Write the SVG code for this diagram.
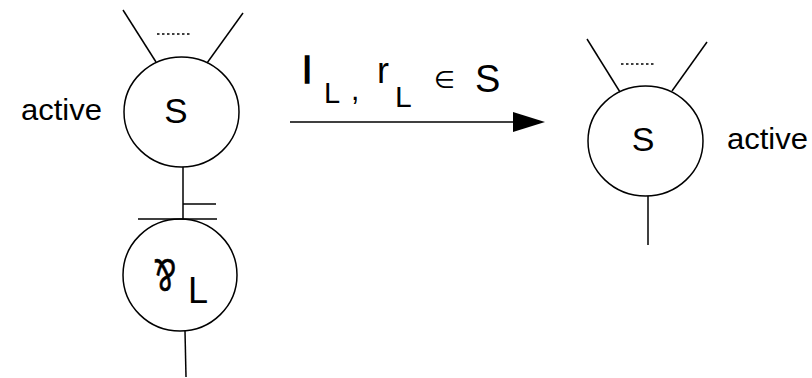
<svg xmlns="http://www.w3.org/2000/svg" width="812" height="378" viewBox="0 0 812 378">
<style>
.ln{stroke:#000;stroke-width:1.5;fill:none}
.dot{stroke:#000;stroke-width:1.3;stroke-dasharray:2.5,2.5;fill:none}
.t{font-family:"Liberation Sans",Arial,sans-serif;fill:#000}
</style>
<defs>
<marker id="ah" viewBox="0 0 32 20" refX="0" refY="10" markerWidth="32" markerHeight="20" markerUnits="userSpaceOnUse" orient="auto">
<path d="M0,0 L32,10 L0,20 Z" fill="#000"/>
</marker>
</defs>
<rect width="812" height="378" fill="#fff"/>
<g id="node-s-left">
<line class="ln" x1="123" y1="10" x2="156" y2="62"/>
<line class="ln" x1="243" y1="13" x2="207" y2="63"/>
<line class="dot" x1="157" y1="34" x2="190" y2="34"/>
<ellipse class="ln" cx="181.5" cy="112" rx="57.5" ry="55"/>
<text class="t" x="176" y="123" font-size="35" text-anchor="middle">S</text>
<text class="t" x="21" y="120" font-size="30" textLength="81" lengthAdjust="spacingAndGlyphs">active</text>
</g>
<g id="node-par">
<ellipse class="ln" cx="180" cy="275" rx="57" ry="56"/>
<text class="t" transform="translate(165,276) rotate(180) scale(0.68,1)" x="0" y="17" font-size="47" text-anchor="middle" style="stroke:#000;stroke-width:0.6">&amp;</text>
<text class="t" x="188" y="303" font-size="36">L</text>
<line class="ln" x1="185" y1="331" x2="186" y2="377"/>
</g>
<g id="node-s-right">
<line class="ln" x1="587" y1="39" x2="620" y2="92"/>
<line class="ln" x1="707" y1="42" x2="672" y2="91"/>
<line class="dot" x1="621" y1="64" x2="654" y2="64"/>
<ellipse class="ln" cx="645.5" cy="141" rx="57.5" ry="55"/>
<text class="t" x="643" y="151" font-size="34" text-anchor="middle">S</text>
<text class="t" x="727" y="149" font-size="30" textLength="81" lengthAdjust="spacingAndGlyphs">active</text>
<line class="ln" x1="648" y1="196" x2="648" y2="245"/>
</g>
<g id="connectors">
<line class="ln" x1="183" y1="167" x2="183" y2="219"/>
<line class="ln" x1="138" y1="219" x2="217" y2="219"/>
<line class="ln" x1="183" y1="204" x2="216" y2="204"/>
<line class="ln" x1="290" y1="122" x2="513" y2="122" marker-end="url(#ah)"/>
</g>
<g id="label">
<text class="t" x="303" y="83" font-size="37" style="stroke:#000;stroke-width:1.5">l</text>
<text class="t" x="324" y="103" font-size="29">L</text>
<text class="t" x="351" y="100" font-size="30">,</text>
<text class="t" x="377" y="83" font-size="36">r</text>
<text class="t" x="395" y="107" font-size="30">L</text>
<text class="t" x="434" y="88" font-size="24" style="font-family:'DejaVu Sans',sans-serif">∈</text>
<text class="t" x="475" y="92" font-size="38">S</text>
</g>
</svg>
